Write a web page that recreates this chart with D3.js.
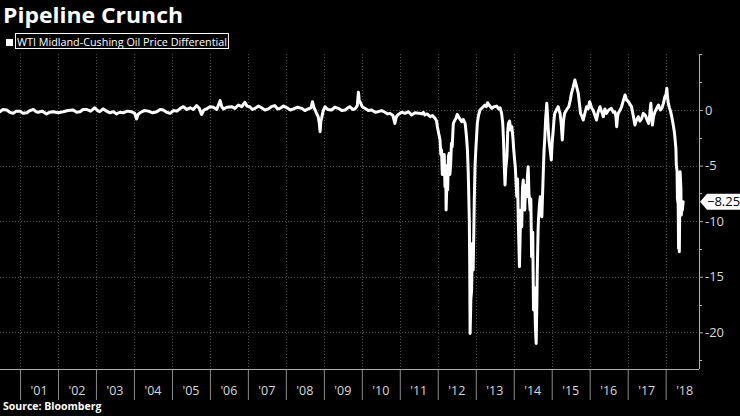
<!DOCTYPE html>
<html><head><meta charset="utf-8">
<script src="https://cdn.jsdelivr.net/npm/d3@7"></script>
<style>html,body{margin:0;padding:0;background:#000;}svg{display:block;}</style>
</head><body>
<svg id="chart" width="740" height="416"></svg>
<script>
// ---- data: decimal years and differential values, by era ----
const yearsA = [
  2000.47,2000.55,2000.65,2000.73,2000.82,2000.90,2001.00,2001.08,2001.18,2001.26,2001.35,2001.42,2001.48,2001.58,2001.70,2001.78,
  2001.88,2002.00,2002.14,2002.26,2002.40,2002.49,2002.58,2002.66,2002.75,2002.86,2002.97,2003.04,2003.10,2003.19,2003.28,2003.37,
  2003.46,2003.54,2003.63,2003.72,2003.82,2003.93,2004.02,2004.07,2004.11,2004.16,2004.27,2004.38,2004.49,2004.60,2004.69,2004.77,
  2004.86,2004.95,2005.04,2005.13,2005.22,2005.30,2005.39,2005.48,2005.56,2005.65,2005.72,2005.78,2005.84,2005.91,2006.00,2006.09,
  2006.18,2006.27,2006.31,2006.36,2006.45,2006.57,2006.66,2006.75,2006.84,2006.92,2006.98,2007.05,2007.12,2007.19,2007.28,2007.36,
  2007.45,2007.54,2007.62,2007.71,2007.78,2007.85,2007.94,2008.03,2008.12,2008.20,2008.31,2008.42,2008.50,2008.59,2008.66,2008.70,
  2008.74,2008.77,2008.82,2008.85,2008.88,2008.90,2008.92,2008.94,2008.98,2009.03,2009.10,2009.20,2009.29,2009.38,2009.47,2009.56,
  2009.63,2009.69,2009.76,2009.82,2009.88,2009.91,2009.93,2009.95,2010.01,2010.08,2010.17,2010.26,2010.35,2010.43,2010.52,2010.61,
  2010.68,2010.74,2010.82,2010.87,2010.91,2010.96,2011.05,2011.14,2011.23,2011.31,2011.40,2011.49
];
const valuesA = [
  -0.15,0.05,0.00,-0.20,-0.30,-0.10,-0.10,-0.30,-0.25,-0.05,0.05,-0.15,-0.20,-0.10,-0.35,-0.20,
  -0.15,-0.25,-0.15,-0.05,0.00,-0.20,-0.15,0.05,0.05,-0.10,0.20,-0.05,-0.15,0.10,-0.10,-0.25,
  -0.15,-0.35,-0.20,-0.25,-0.10,-0.15,-0.30,-0.80,-0.40,-0.25,-0.05,-0.10,-0.25,-0.15,0.05,0.00,
  -0.20,-0.30,-0.05,-0.10,0.15,0.30,0.05,0.20,0.05,0.40,0.15,-0.40,0.00,0.10,0.30,0.25,
  0.05,0.85,0.30,0.10,0.25,0.30,0.15,0.45,0.30,0.70,0.35,0.30,0.05,0.15,0.35,0.20,
  0.00,0.10,0.30,0.40,0.10,0.15,0.35,0.20,0.00,0.10,0.25,0.15,-0.05,0.10,0.20,0.75,
  0.20,0.00,-0.40,-0.60,-1.20,-1.95,-1.00,-0.75,-0.10,0.30,0.05,0.00,0.25,0.15,-0.05,0.00,
  0.20,0.30,0.05,0.10,0.40,1.60,0.90,0.75,0.30,0.15,-0.05,0.00,-0.20,-0.15,-0.05,-0.20,
  -0.35,-0.30,-0.50,-1.20,-0.60,-0.40,-0.20,-0.30,-0.15,-0.45,-0.25,-0.30
];
const yearsB = [
  2011.53,2011.58,2011.62,2011.66,2011.72,2011.80,2011.86,2011.93,2011.97,2011.99,2012.03,2012.06,2012.08,2012.10,2012.12,2012.15,
  2012.17,2012.19,2012.21,2012.22,2012.24,2012.26,2012.28,2012.30,2012.32,2012.34,2012.36,2012.38,2012.40,2012.41,2012.45,2012.48,
  2012.51,2012.54,2012.58,2012.63,2012.67,2012.72,2012.75,2012.78,2012.80,2012.81,2012.83,2012.84,2012.85,2012.87,2012.89,2012.91,
  2012.93,2012.95,2012.96,2012.98,2013.00,2013.02,2013.04,2013.07,2013.11,2013.17,2013.24,2013.28,2013.31,2013.36,2013.42,2013.48,
  2013.55,2013.60,2013.64,2013.68,2013.71,2013.73,2013.75,2013.77,2013.79,2013.82,2013.84,2013.86,2013.89,2013.92,2013.95,2013.98,
  2014.00,2014.02,2014.04,2014.06,2014.08,2014.10,2014.12,2014.15,2014.17,2014.19,2014.21,2014.23,2014.25,2014.27,2014.29,2014.31,
  2014.34,2014.36,2014.38,2014.40,2014.43,2014.45,2014.47,2014.50,2014.52,2014.55,2014.57,2014.59,2014.61,2014.62,2014.64,2014.65,
  2014.68,2014.70,2014.72,2014.74,2014.76,2014.78,2014.80,2014.82,2014.84,2014.87,2014.89,2014.91,2014.93,2014.96,2014.99,2015.01,
  2015.04
];
const valuesB = [
  -0.30,-0.35,-0.20,-0.45,-0.35,-0.60,-0.50,-0.75,-1.00,-1.50,-2.20,-2.70,-4.00,-3.60,-5.80,-5.40,
  -4.00,-6.90,-5.00,-9.00,-6.50,-7.20,-4.20,-3.90,-5.80,-4.80,-3.00,-3.30,-1.80,-1.20,-0.90,-0.75,
  -0.40,-0.55,-0.80,-1.05,-0.85,-1.20,-2.20,-3.60,-5.50,-6.90,-10.00,-14.00,-20.10,-17.00,-16.20,-12.00,
  -14.40,-10.50,-8.10,-5.00,-3.60,-2.40,-1.20,-0.50,0.00,0.20,0.45,0.30,0.65,0.40,0.15,0.30,
  0.35,0.10,0.20,-0.30,-1.20,-2.70,-5.00,-6.75,-5.20,-4.20,-2.00,-1.20,-1.00,-1.80,-1.50,-2.60,
  -3.60,-4.40,-5.10,-6.50,-7.80,-6.20,-10.00,-14.10,-11.00,-9.00,-10.50,-7.00,-6.30,-8.20,-9.00,-6.80,
  -7.80,-6.00,-5.10,-7.50,-9.00,-8.00,-13.20,-11.00,-18.00,-16.00,-19.50,-21.00,-17.00,-14.40,-11.00,-9.90,
  -8.40,-7.80,-9.20,-9.60,-7.50,-5.40,-3.50,-2.40,-0.80,0.60,-0.50,-1.80,-2.80,-3.60,-4.50,-3.00,
  -1.80
];
const yearsC = [
  2015.06,2015.08,2015.12,2015.17,2015.20,2015.22,2015.25,2015.28,2015.31,2015.34,2015.39,2015.45,2015.49,2015.52,2015.56,2015.61,
  2015.65,2015.70,2015.73,2015.76,2015.80,2015.83,2015.88,2015.92,2015.96,2016.00,2016.05,2016.09,2016.13,2016.18,2016.22,2016.27,
  2016.31,2016.36,2016.40,2016.44,2016.50,2016.57,2016.62,2016.66,2016.69,2016.71,2016.73,2016.75,2016.80,2016.84,2016.88,2016.93,
  2016.97,2017.02,2017.06,2017.10,2017.14,2017.19,2017.23,2017.28,2017.32,2017.37,2017.41,2017.46,2017.50,2017.55,2017.58,2017.61,
  2017.63,2017.65,2017.68,2017.72,2017.77,2017.81,2017.86,2017.90,2017.94,2017.98,2018.01,2018.03,2018.05,2018.07,2018.10,2018.13,
  2018.16,2018.20,2018.23,2018.25,2018.27,2018.28,2018.30,2018.31,2018.33,2018.34,2018.35,2018.36,2018.37,2018.38,2018.40,2018.41,
  2018.43,2018.44,2018.46
];
const valuesC = [
  -0.90,-0.30,0.00,0.30,-0.10,-0.30,-1.20,-2.70,-1.00,-0.30,0.00,0.30,0.90,1.50,2.00,2.70,
  2.20,1.50,0.60,-0.30,-0.60,-0.90,-0.20,0.30,0.10,0.75,0.20,0.00,-0.40,-0.90,-0.20,0.30,
  -0.10,-0.60,0.10,-0.30,0.00,0.15,-0.20,-0.15,-0.60,-1.50,-0.70,-0.30,0.00,0.30,0.80,1.35,
  0.90,0.75,0.50,0.30,-0.40,-1.35,-0.90,-0.60,-1.00,-0.75,-0.30,-0.45,-0.80,-1.20,-0.40,0.60,
  -0.50,-1.35,-0.60,-0.15,0.20,0.45,0.00,0.15,0.60,1.20,1.40,1.95,1.10,0.60,0.20,-0.15,
  -0.60,-1.35,-2.00,-2.70,-3.50,-4.95,-5.50,-7.95,-8.50,-12.45,-11.00,-12.75,-9.00,-5.55,-7.00,-9.45,
  -8.60,-9.00,-8.25
];
const yTicks = [0, -5, -10, -15, -20];
const yMinorTicks = [5, 2.5, -2.5, -7.5, -12.5, -17.5, -22.5];
const xYears = d3.range(2001, 2019);
const lastValue = -8.25;
const title = "Pipeline Crunch";
const seriesName = "WTI Midland-Cushing Oil Price Differential";
const source = "Source: Bloomberg";

// ---- helpers ----
function toDate(t) {
  const y = Math.floor(t);
  const s = new Date(y, 0, 1), e = new Date(y + 1, 0, 1);
  return new Date(+s + (t - y) * (e - s));
}
const years = yearsA.concat(yearsB, yearsC);
const values = valuesA.concat(valuesB, valuesC);
const data = years.map((t, i) => ({ date: toDate(t), value: values[i] }));

const svg = d3.select("#chart");
svg.append("rect").attr("width", 740).attr("height", 416).attr("fill", "#000");

const plot = { left: 0, right: 699, top: 54, bottom: 369 };
const x = d3.scaleTime().domain([toDate(2000.473), toDate(2018.878)]).range([plot.left, plot.right]);
const y = d3.scaleLinear().domain([-23.3, 5.04]).range([plot.bottom, plot.top]);

const font = "'Open Sans', 'DejaVu Sans', sans-serif";

// grid
const grid = svg.append("g").attr("stroke", "#4a4a4a").attr("stroke-width", 1).attr("stroke-dasharray", "1,2");
grid.selectAll("line.h").data(yTicks).join("line")
  .attr("x1", plot.left).attr("x2", plot.right)
  .attr("y1", d => Math.round(y(d)) + 0.5).attr("y2", d => Math.round(y(d)) + 0.5);
grid.selectAll("line.v").data(xYears).join("line")
  .attr("x1", d => Math.round(x(toDate(d))) + 0.5).attr("x2", d => Math.round(x(toDate(d))) + 0.5)
  .attr("y1", plot.top).attr("y2", plot.bottom);

// x axis
const xAxis = svg.append("g").attr("transform", `translate(0,${plot.bottom})`)
  .call(d3.axisBottom(x).tickValues(xYears.map(toDate)).tickSize(31).tickFormat(""));
xAxis.select(".domain").remove();
xAxis.selectAll(".tick text").remove();
xAxis.selectAll(".tick line").attr("stroke", "#8a8a8a");
svg.append("line").attr("x1", plot.left).attr("x2", plot.right)
  .attr("y1", plot.bottom + 0.5).attr("y2", plot.bottom + 0.5).attr("stroke", "#b0b0b0");
svg.append("g").selectAll("text").data(xYears).join("text")
  .attr("x", d => x(toDate(d + 0.5)))
  .attr("y", 394.5)
  .attr("text-anchor", "middle")
  .attr("fill", "#d8d8d8")
  .attr("font-family", font).attr("font-size", 12.5)
  .text(d => "'" + String(d % 100).padStart(2, "0"));

// y axis (right)
const yAxis = svg.append("g").attr("transform", `translate(${plot.right},0)`)
  .call(d3.axisRight(y).tickValues(yTicks).tickSize(4).tickPadding(2).tickFormat(d3.format("d")));
yAxis.select(".domain").attr("stroke", "#b0b0b0").attr("d", `M0.5,${plot.top}V${plot.bottom}`);
yAxis.selectAll(".tick line").attr("stroke", "#b0b0b0");
yAxis.selectAll(".tick text").attr("fill", "#d8d8d8").attr("font-family", font).attr("font-size", 13)
  .text(d => d === 0 ? "0" : "-" + Math.abs(d));
svg.append("g").selectAll("line").data(yMinorTicks).join("line")
  .attr("x1", plot.right).attr("x2", plot.right + 3)
  .attr("y1", d => Math.round(y(d)) + 0.5).attr("y2", d => Math.round(y(d)) + 0.5)
  .attr("stroke", "#b0b0b0");

// series line
svg.append("path").datum(data)
  .attr("fill", "none").attr("stroke", "#fff").attr("stroke-width", 3)
  .attr("stroke-linejoin", "round").attr("stroke-linecap", "round")
  .attr("d", d3.line().x(d => x(d.date)).y(d => y(d.value)));

// last value callout
const cy = y(lastValue);
svg.append("path")
  .attr("d", `M700,${cy}L707,${cy - 8}H740V${cy + 8}H707Z`)
  .attr("fill", "#fff");
svg.append("text").attr("x", 707).attr("y", cy).attr("dy", "0.36em")
  .attr("fill", "#000").attr("font-family", font).attr("font-size", 13)
  .text(d3.format(".2f")(lastValue));

// title
svg.append("text").attr("x", 3).attr("y", 23)
  .attr("fill", "#fff").attr("font-family", font).attr("font-weight", "bold").attr("font-size", 21.5)
  .attr("textLength", 180).attr("lengthAdjust", "spacingAndGlyphs")
  .text(title);

// legend
svg.append("rect").attr("x", 6).attr("y", 39).attr("width", 7).attr("height", 7).attr("fill", "#fff");
svg.append("rect").attr("x", 15.5).attr("y", 33.5).attr("width", 213).attr("height", 15)
  .attr("fill", "none").attr("stroke", "#fff").attr("stroke-width", 1);
svg.append("text").attr("x", 17).attr("y", 45.5)
  .attr("fill", "#fff").attr("font-family", font).attr("font-size", 11.5)
  .attr("textLength", 210).attr("lengthAdjust", "spacingAndGlyphs")
  .text(seriesName);

// source
svg.append("text").attr("x", 3).attr("y", 410)
  .attr("fill", "#fff").attr("font-family", font).attr("font-weight", "bold").attr("font-size", 10.5)
  .text(source);
</script>
</body></html>
